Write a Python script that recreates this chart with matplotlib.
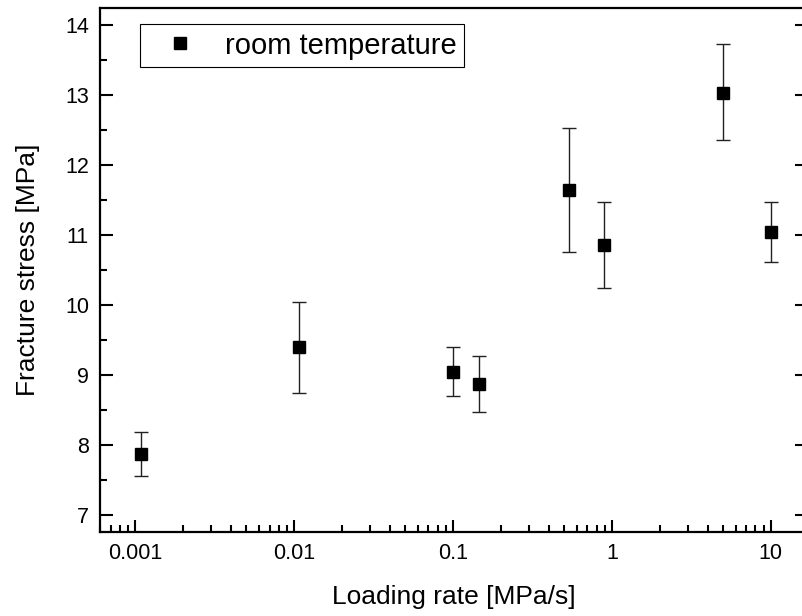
import matplotlib.pyplot as plt
import numpy as np
from matplotlib.lines import Line2D
from matplotlib.ticker import LogLocator, FixedLocator, MultipleLocator, FuncFormatter

plt.rcParams["font.family"] = ["Liberation Sans", "DejaVu Sans"]

# data
rate = [0.00109, 0.0108, 0.1, 0.145, 0.54, 0.89, 4.97, 10.0]
stress = [7.87, 9.40, 9.05, 8.87, 11.64, 10.86, 13.03, 11.04]
err_lo = [7.56, 8.75, 8.70, 8.47, 10.76, 10.25, 12.36, 10.62]
err_hi = [8.19, 10.05, 9.40, 9.27, 12.52, 11.47, 13.72, 11.47]
xticks = [0.001, 0.01, 0.1, 1, 10]
xtick_labels = ["0.001", "0.01", "0.1", "1", "10"]
yticks = [7, 8, 9, 10, 11, 12, 13, 14]

stress = np.array(stress)
yerr = [stress - np.array(err_lo), np.array(err_hi) - stress]

fig = plt.figure(figsize=(8.03, 6.16), dpi=100)
ax = fig.add_axes([100 / 803, 84 / 616, 707 / 803, 524 / 616])

ax.errorbar(rate, stress, yerr=yerr, fmt="s", color="black", ms=8.5,
            ecolor="#222222", elinewidth=1.0, capsize=5, capthick=1.0)

ax.set_xscale("log")
ax.set_xlim(0.0006, 16.9)
ax.set_ylim(6.76, 14.24)

ax.xaxis.set_major_locator(FixedLocator(xticks))
ax.xaxis.set_major_formatter(FuncFormatter(lambda v, p: xtick_labels[xticks.index(v)] if v in xticks else ""))
ax.xaxis.set_minor_locator(LogLocator(base=10, subs=np.arange(2, 10)))
ax.yaxis.set_major_locator(FixedLocator(yticks))
ax.yaxis.set_minor_locator(MultipleLocator(0.5))

for s in ax.spines.values():
    s.set_linewidth(1.6)

ax.tick_params(axis="both", which="major", direction="in", length=9, width=1.5,
               labelsize=15.5, pad=8)
ax.tick_params(axis="both", which="minor", direction="in", length=5, width=1.5)
ax.tick_params(axis="y", which="major", right=True)
ax.tick_params(axis="y", which="minor", right=False)
ax.tick_params(axis="x", which="both", top=False)

ax.set_xlabel("Loading rate [MPa/s]", fontsize=19, labelpad=15)
ax.set_ylabel("Fracture stress [MPa]", fontsize=19, labelpad=18)

handle = Line2D([], [], ls="none", marker="s", color="black", ms=8.5)
leg = ax.legend([handle], ["room temperature"], loc="upper left",
                bbox_to_anchor=(0.057, 0.969), borderaxespad=0,
                fontsize=21, numpoints=1, fancybox=False, framealpha=1,
                edgecolor="black", handlelength=2.2, handletextpad=0.45,
                borderpad=0.25)
leg.get_frame().set_linewidth(0.8)

fig.savefig("out.png", dpi=100)
